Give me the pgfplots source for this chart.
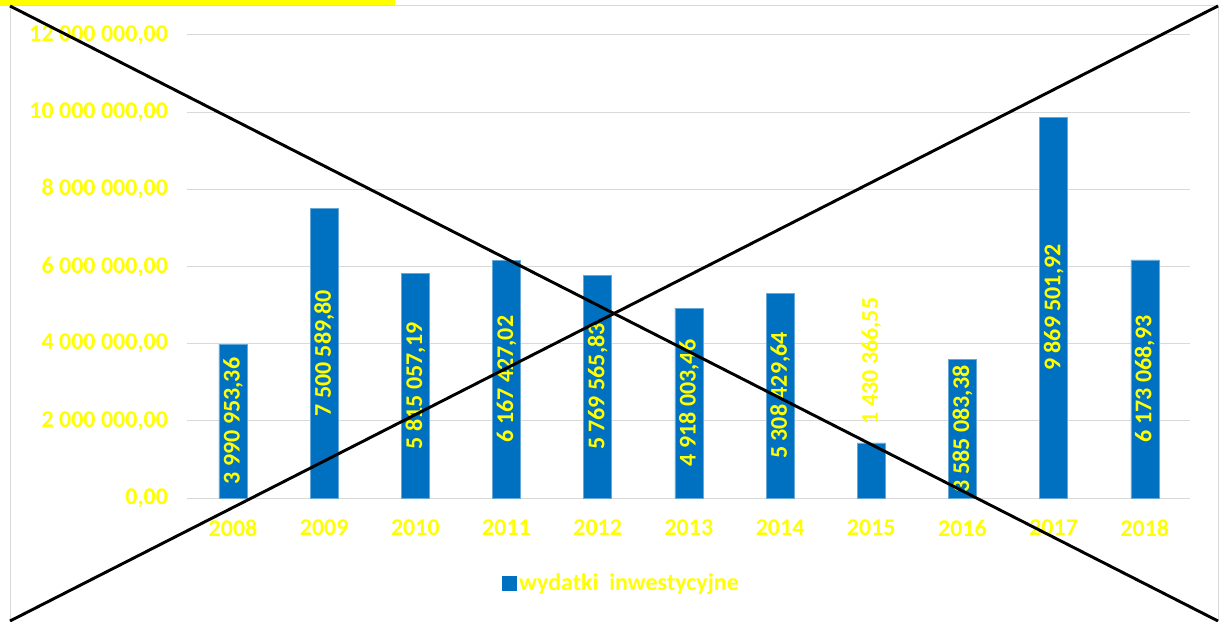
\documentclass[border=0pt]{standalone}
\usepackage{fontspec}
\setmainfont{Carlito}
\usepackage{pgfplots}
\usepackage{pgfplotstable}
\pgfplotsset{compat=1.18}
\definecolor{xblue}{RGB}{0,112,192}
\definecolor{xyel}{RGB}{255,255,0}
\definecolor{xgrid}{RGB}{217,217,217}
\pgfplotstableread[col sep=semicolon]{
x;v;label
0;3990953.36;3 990 953,36
1;7500589.80;7 500 589,80
2;5815057.19;5 815 057,19
3;6167427.02;6 167 427,02
4;5769565.83;5 769 565,83
5;4918003.46;4 918 003,46
6;5308429.64;5 308 429,64
7;1430366.55;1 430 366,55
8;3585083.38;3 585 083,38
9;9869501.92;9 869 501,92
10;6173068.93;6 173 068,93
}\data
\begin{document}
\begin{tikzpicture}[x=0.75pt,y=0.75pt]
\useasboundingbox (0,0) rectangle (1220,621);
\fill[white] (0,0) rectangle (1220,621);
\fill[xyel] (0,615) rectangle (395,621);
\draw[xgrid,line width=0.75pt] (10,0) -- (10,615) -- (1218,615) -- (1218,0);
\begin{axis}[
  at={(140.55pt,92.25pt)}, anchor=south west,
  scale only axis, width=752.25pt, height=347.25pt,
  xmin=-0.5, xmax=10.5, ymin=0, ymax=12000000,
  xtick={0,...,10},
  xticklabels={2008,2009,2010,2011,2012,2013,2014,2015,2016,2017,2018},
  ytick={0,2000000,4000000,6000000,8000000,10000000,12000000},
  yticklabels={{0,00},{2 000 000,00},{4 000 000,00},{6 000 000,00},{8 000 000,00},{10 000 000,00},{12 000 000,00}},
  scaled y ticks=false,
  ymajorgrids, grid style={xgrid,line width=0.75pt},
  axis line style={draw=none},
  major tick length=0pt,
  tick label style={font=\fontsize{18}{20}\selectfont\bfseries, text=xyel},
  xticklabel style={yshift=-13pt},
  yticklabel style={xshift=-11pt},
  legend style={at={(0.433,-0.184)}, anchor=center, draw=none, fill=none,
    font=\fontsize{18}{20}\selectfont\bfseries, text=xyel,
    legend cell align=left},
  legend image code/.code={\fill[xblue] (0pt,-5pt) rectangle (10.5pt,5.5pt);},
  clip=false,
]
\addplot[ybar, bar width=21pt, fill=xblue, draw=xblue!60!white, line width=0.4pt] table[x=x,y=v]{\data};
\addlegendentry{wydatki\ \ inwestycyjne}
\addplot[draw=none, mark=none, forget plot,
  nodes near coords, point meta=explicit symbolic,
  nodes near coords style={rotate=90, anchor=center, text=xyel,
     font=\fontsize{18}{20}\selectfont\bfseries, inner sep=0pt}]
  table[x=x, y expr={\thisrow{v}<2000000 ? \thisrow{v}+2120000 : \thisrow{v}/2}, meta=label]{\data};
\end{axis}
\draw[black, line width=2.2pt] (10,615) -- (1218,0);
\draw[black, line width=2.2pt] (10,0) -- (1218,615);
\end{tikzpicture}
\end{document}
